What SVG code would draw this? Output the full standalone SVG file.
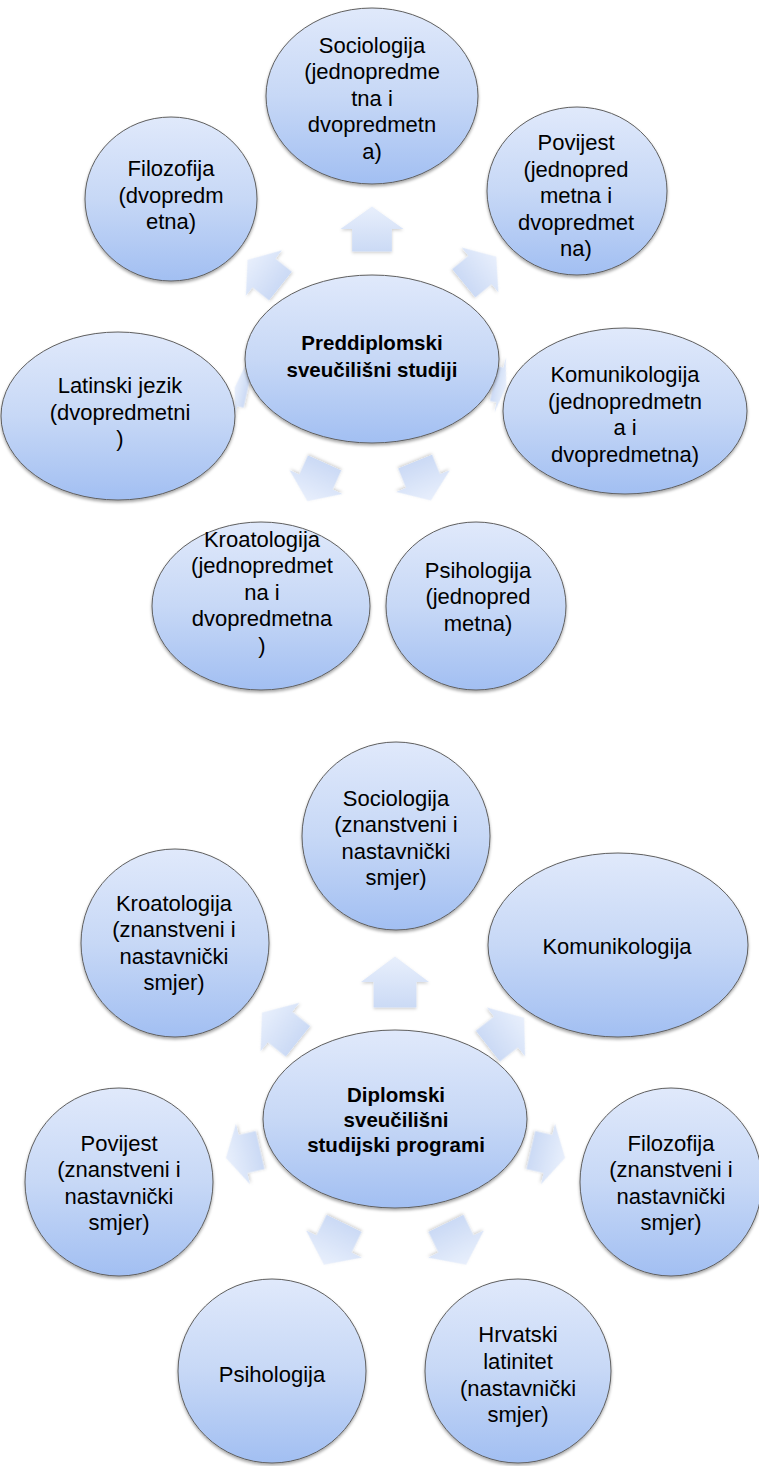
<svg xmlns="http://www.w3.org/2000/svg" xmlns:xlink="http://www.w3.org/1999/xlink" width="759" height="1466" viewBox="0 0 759 1466">
<defs>
<linearGradient id="gNode" x1="0" y1="0" x2="0" y2="1">
<stop offset="0" stop-color="#e0e9fb"/>
<stop offset="0.5" stop-color="#c7d8f6"/>
<stop offset="1" stop-color="#a2bff2"/>
</linearGradient>
<linearGradient id="gArrow" x1="0" y1="0" x2="0" y2="1">
<stop offset="0" stop-color="#e8effc"/>
<stop offset="1" stop-color="#cbdaf5"/>
</linearGradient>
<filter id="shadow" x="-20%" y="-20%" width="140%" height="150%">
<feDropShadow dx="0" dy="2" stdDeviation="1.6" flood-color="#000" flood-opacity="0.35"/>
</filter>
<filter id="ashadow" x="-30%" y="-30%" width="160%" height="160%">
<feDropShadow dx="0" dy="1.5" stdDeviation="1.5" flood-color="#000" flood-opacity="0.18"/>
</filter>
<path id="aUpTop" d="M0,-22.5 L31.5,0 L19.85,0 L19.85,22.5 L-19.85,22.5 L-19.85,0 L-31.5,0 Z"/>
<path id="aDiagTop" d="M0,-21 L29,0 L18.3,0 L18.3,21 L-18.3,21 L-18.3,0 L-29,0 Z"/>
<path id="aThin" d="M0,-6.5 L28,0 L17.6,0 L17.6,6.5 L-17.6,6.5 L-17.6,0 L-28,0 Z"/>
<path id="aUpBot" d="M0,-25.5 L34,0 L21.4,0 L21.4,25.5 L-21.4,25.5 L-21.4,0 L-34,0 Z"/>
<path id="aDiagBot" d="M0,-23 L31,0 L19.5,0 L19.5,23 L-19.5,23 L-19.5,0 L-31,0 Z"/>
<path id="aSideBot" d="M0,-17.5 L31,0 L19.5,0 L19.5,17.5 L-19.5,17.5 L-19.5,0 L-31,0 Z"/>
</defs>
<style>
.node{fill:url(#gNode);stroke:#5f5f5f;stroke-width:1;filter:url(#shadow);}
.arrow{fill:url(#gArrow);stroke:none;filter:url(#ashadow);}
text{font-family:"Liberation Sans",Arial,sans-serif;font-size:22px;fill:#000;text-anchor:middle;}
text.b{font-weight:bold;font-size:20.5px;}
</style>
<rect width="759" height="1466" fill="#fff"/>

<g id="connectors">
<use href="#aUpTop" class="arrow" transform="translate(372,229)"/>
<use href="#aDiagTop" class="arrow" transform="translate(264,273) rotate(-51.5)"/>
<use href="#aDiagTop" class="arrow" transform="translate(480,270) rotate(50.7)"/>
<use href="#aThin" class="arrow" transform="translate(500,385) rotate(101.6)"/>
<use href="#aDiagTop" class="arrow" transform="translate(423,481) rotate(158)"/>
<use href="#aDiagTop" class="arrow" transform="translate(316,482) rotate(-155.8)"/>
<use href="#aThin" class="arrow" transform="translate(241,389) rotate(-77.3)"/>

<use href="#aUpBot" class="arrow" transform="translate(395,982)"/>
<use href="#aDiagBot" class="arrow" transform="translate(280,1027) rotate(-51.3)"/>
<use href="#aDiagBot" class="arrow" transform="translate(506,1032) rotate(52)"/>
<use href="#aSideBot" class="arrow" transform="translate(548,1154) rotate(103)"/>
<use href="#aSideBot" class="arrow" transform="translate(243,1154) rotate(-103)"/>
<use href="#aDiagBot" class="arrow" transform="translate(334,1244) rotate(-154)"/>
<use href="#aDiagBot" class="arrow" transform="translate(456,1244) rotate(154)"/>
</g>

<g id="n-preddiplomski">
<ellipse class="node" cx="372" cy="359" rx="127" ry="84"/>
<text class="b" x="372" y="350">Preddiplomski</text>
<text class="b" x="372" y="377">sveučilišni studiji</text>
</g>
<g id="n-sociologija-1">
<ellipse class="node" cx="372" cy="96" rx="106" ry="88"/>
<text x="372" y="52.5">Sociologija</text>
<text x="372" y="79">(jednopredme</text>
<text x="372" y="105.5">tna i</text>
<text x="372" y="132">dvopredmetn</text>
<text x="372" y="158.5">a)</text>
</g>
<g id="n-filozofija-1">
<ellipse class="node" cx="171" cy="199" rx="86" ry="82"/>
<text x="171" y="176">Filozofija</text>
<text x="171" y="203">(dvopredm</text>
<text x="171" y="229">etna)</text>
</g>
<g id="n-povijest-1">
<ellipse class="node" cx="577" cy="191" rx="90" ry="84"/>
<text x="576" y="150">Povijest</text>
<text x="576" y="176.5">(jednopred</text>
<text x="576" y="203">metna i</text>
<text x="576" y="229.5">dvopredmet</text>
<text x="576" y="256">na)</text>
</g>
<g id="n-komunikologija-1">
<ellipse class="node" cx="625" cy="411" rx="122" ry="83"/>
<text x="625" y="382">Komunikologija</text>
<text x="625" y="408.5">(jednopredmetn</text>
<text x="625" y="435">a i</text>
<text x="625" y="461.5">dvopredmetna)</text>
</g>
<g id="n-latinski-1">
<ellipse class="node" cx="118" cy="416" rx="117" ry="84"/>
<text x="120" y="393">Latinski jezik</text>
<text x="120" y="420">(dvopredmetni</text>
<text x="120" y="446">)</text>
</g>
<g id="n-kroatologija-1">
<ellipse class="node" cx="261" cy="606" rx="109" ry="84"/>
<text x="262" y="546.5">Kroatologija</text>
<text x="262" y="573">(jednopredmet</text>
<text x="262" y="599.5">na i</text>
<text x="262" y="626">dvopredmetna</text>
<text x="262" y="652.5">)</text>
</g>
<g id="n-psihologija-1">
<ellipse class="node" cx="476" cy="606" rx="90" ry="84"/>
<text x="478" y="577.5">Psihologija</text>
<text x="478" y="604">(jednopred</text>
<text x="478" y="630.5">metna)</text>
</g>

<g id="n-diplomski">
<ellipse class="node" cx="395" cy="1119" rx="132" ry="89"/>
<text class="b" x="396" y="1102">Diplomski</text>
<text class="b" x="396" y="1127">sveučilišni</text>
<text class="b" x="396" y="1152">studijski programi</text>
</g>
<g id="n-sociologija-2">
<ellipse class="node" cx="396" cy="836" rx="94" ry="94"/>
<text x="396" y="805.5">Sociologija</text>
<text x="396" y="832">(znanstveni i</text>
<text x="396" y="858.5">nastavnički</text>
<text x="396" y="885">smjer)</text>
</g>
<g id="n-kroatologija-2">
<ellipse class="node" cx="175" cy="943" rx="94" ry="94"/>
<text x="174" y="910.5">Kroatologija</text>
<text x="174" y="937">(znanstveni i</text>
<text x="174" y="963.5">nastavnički</text>
<text x="174" y="990">smjer)</text>
</g>
<g id="n-komunikologija-2">
<ellipse class="node" cx="618" cy="945" rx="130" ry="92"/>
<text x="617" y="954">Komunikologija</text>
</g>
<g id="n-povijest-2">
<ellipse class="node" cx="119" cy="1182" rx="94" ry="94"/>
<text x="119" y="1150.5">Povijest</text>
<text x="119" y="1177">(znanstveni i</text>
<text x="119" y="1203.5">nastavnički</text>
<text x="119" y="1230">smjer)</text>
</g>
<g id="n-filozofija-2">
<ellipse class="node" cx="671" cy="1182" rx="91" ry="94"/>
<text x="671" y="1150.5">Filozofija</text>
<text x="671" y="1177">(znanstveni i</text>
<text x="671" y="1203.5">nastavnički</text>
<text x="671" y="1230">smjer)</text>
</g>
<g id="n-psihologija-2">
<ellipse class="node" cx="272" cy="1371" rx="94" ry="92"/>
<text x="272" y="1382">Psihologija</text>
</g>
<g id="n-hrvatski-latinitet">
<ellipse class="node" cx="518" cy="1371" rx="93" ry="92"/>
<text x="518" y="1342">Hrvatski</text>
<text x="518" y="1369">latinitet</text>
<text x="518" y="1396">(nastavnički</text>
<text x="518" y="1422">smjer)</text>
</g>
</svg>
